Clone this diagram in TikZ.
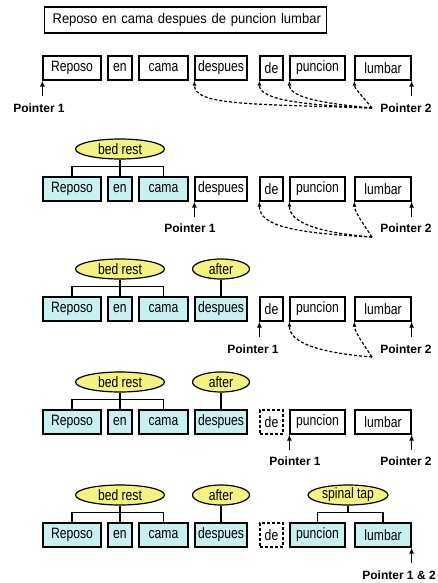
\documentclass[tikz,border=0pt]{standalone}
\usepackage{fontspec}
\setmainfont{Liberation Sans}
\newfontfamily\boxfnt{Liberation Sans}[FakeStretch=0.81]
\newfontfamily\titfnt{Liberation Sans}[FakeStretch=0.93]
\usetikzlibrary{arrows.meta,shapes.geometric,calc}
\definecolor{cyanbox}{RGB}{200,240,240}
\definecolor{ovalyel}{RGB}{243,243,130}
\tikzset{
  wbox/.style={draw, line width=1.2pt, minimum height=24pt, inner sep=0pt,
    font=\boxfnt\fontsize{15}{17}\selectfont},
  plain/.style={fill=white},
  hit/.style={fill=cyanbox},
  gone/.style={fill=white, dash pattern=on 3pt off 2pt},
  oval/.style={draw, line width=1.2pt, ellipse, fill=ovalyel, inner sep=0pt,
    minimum height=20pt, font=\boxfnt\fontsize{15}{17}\selectfont},
  plabel/.style={font=\fontsize{12}{14}\selectfont\bfseries, inner sep=0pt},
  ptr/.style={line width=1.3pt, -{Latex[length=6pt,width=5pt]}},
  dptr/.style={line width=1.2pt, dash pattern=on 3pt off 2pt, -{Latex[length=5pt,width=4pt]}},
  tree/.style={line width=1.1pt},
  titlebox/.style={draw, line width=1.2pt, text width=276pt, align=left,
    inner xsep=3pt, minimum height=26pt, font=\titfnt\fontsize{14}{16}\selectfont}
}
\newcommand\wordrow[6]{%
  \node[wbox,#3,minimum width=58pt] (#1re) at (72,#2) {Reposo};
  \node[wbox,#3,minimum width=24pt] (#1en) at (120,#2) {en};
  \node[wbox,#3,minimum width=49pt] (#1ca) at (163.5,#2) {cama};
  \node[wbox,#4,minimum width=52pt] (#1des) at (221,#2) {despues};
  \node[wbox,#5,minimum width=23pt] (#1de) at (271.5,#2) {de};
  \node[wbox,#6,minimum width=55pt] (#1pu) at (317.5,#2) {puncion};
  \node[wbox,#6,minimum width=56pt] (#1lu) at (383,#2) {lumbar};
}
\newcommand\bedrest[2]{%
  \node[oval, minimum width=89pt] (#1bed) at (120,#2) {bed rest};
  \coordinate (#1bj) at ([yshift=10pt]#1en.north);
  \draw[tree] (#1bed.south) -- (#1en.north);
  \draw[tree] (#1re.north) |- (#1bj) -| (#1ca.north);
}
\newcommand\after[2]{%
  \node[oval, minimum width=57pt] (#1aft) at (221,#2) {after};
  \draw[tree] (#1aft.south) -- (#1des.north);
}
\begin{document}
\begin{tikzpicture}[x=1pt,y=-1pt]
\useasboundingbox (0,0) rectangle (438,583);
\fill[white] (0,0) rectangle (438,583);

% title
\node[titlebox, anchor=west] (title) at (44,20) {\hspace{5pt}Reposo en cama despues de puncion lumbar};

% ---------- row a ----------
\wordrow{a}{68}{plain}{plain}{plain}{plain}
\coordinate (ap1t) at ([yshift=-15pt]are.south west);
\coordinate (ap2t) at ([yshift=-15pt]alu.south east);
\draw[ptr] (ap1t) -- (are.south west);
\draw[ptr] (ap2t) -- (alu.south east);
\node[plabel] (ap1) at (39,108) {Pointer 1};
\node[plabel] (ap2) at (406,108) {Pointer 2};
\coordinate (ac) at (372,108);
\draw[dptr] (ac) .. controls +(-120,-4) and +(0,25) .. (ades.south west);
\draw[dptr] (ac) .. controls +(-65,-3) and +(0,20) .. (ade.south west);
\draw[dptr] (ac) .. controls +(-42,-4) and +(0,18) .. (apu.south west);
\draw[dptr] (ac) .. controls +(-8,-10) and +(0,8) .. (alu.south west);

% ---------- row b ----------
\wordrow{b}{189}{hit}{plain}{plain}{plain}
\bedrest{b}{149}
\coordinate (bp1t) at ([yshift=-15pt]bdes.south west);
\coordinate (bp2t) at ([yshift=-15pt]blu.south east);
\draw[ptr] (bp1t) -- (bdes.south west);
\draw[ptr] (bp2t) -- (blu.south east);
\node[plabel] (bp1) at (190,228) {Pointer 1};
\node[plabel] (bp2) at (406,228) {Pointer 2};
\coordinate (bc) at (372,237);
\draw[dptr] (bc) .. controls +(-80,-4) and +(0,24) .. (bde.south west);
\draw[dptr] (bc) .. controls +(-50,-4) and +(0,22) .. (bpu.south west);
\draw[dptr] (bc) .. controls +(-8,-12) and +(0,10) .. (blu.south west);

% ---------- row c ----------
\wordrow{c}{309}{hit}{hit}{plain}{plain}
\bedrest{c}{269}
\after{c}{269}
\coordinate (cp1t) at ([yshift=-15pt]cde.south west);
\coordinate (cp2t) at ([yshift=-15pt]clu.south east);
\draw[ptr] (cp1t) -- (cde.south west);
\draw[ptr] (cp2t) -- (clu.south east);
\node[plabel] (cp1) at (253,349) {Pointer 1};
\node[plabel] (cp2) at (406,349) {Pointer 2};
\coordinate (cc) at (372,357);
\draw[dptr] (cc) .. controls +(-50,-4) and +(0,22) .. (cpu.south west);
\draw[dptr] (cc) .. controls +(-8,-12) and +(0,10) .. (clu.south west);

% ---------- row d ----------
\wordrow{d}{422}{hit}{hit}{gone}{plain}
\bedrest{d}{382}
\after{d}{382}
\coordinate (dp1t) at ([yshift=-15pt]dpu.south west);
\coordinate (dp2t) at ([yshift=-15pt]dlu.south east);
\draw[ptr] (dp1t) -- (dpu.south west);
\draw[ptr] (dp2t) -- (dlu.south east);
\node[plabel] (dp1) at (295,461) {Pointer 1};
\node[plabel] (dp2) at (406,461) {Pointer 2};

% ---------- row e ----------
\wordrow{e}{535}{hit}{hit}{gone}{hit}
\bedrest{e}{495}
\after{e}{495}
\node[oval, minimum width=80pt] (esp) at (348,495) {spinal tap};
\coordinate (esj) at ([yshift=10pt]esp.south |- epu.north);
\draw[tree] (esp.south) -- (esj);
\draw[tree] (epu.north) |- (esj) -| (elu.north);
\coordinate (ep1t) at ([yshift=-15pt]elu.south east);
\draw[ptr] (ep1t) -- (elu.south east);
\node[plabel] (ep12) at (399,575) {Pointer 1 \& 2};
\end{tikzpicture}
\end{document}
